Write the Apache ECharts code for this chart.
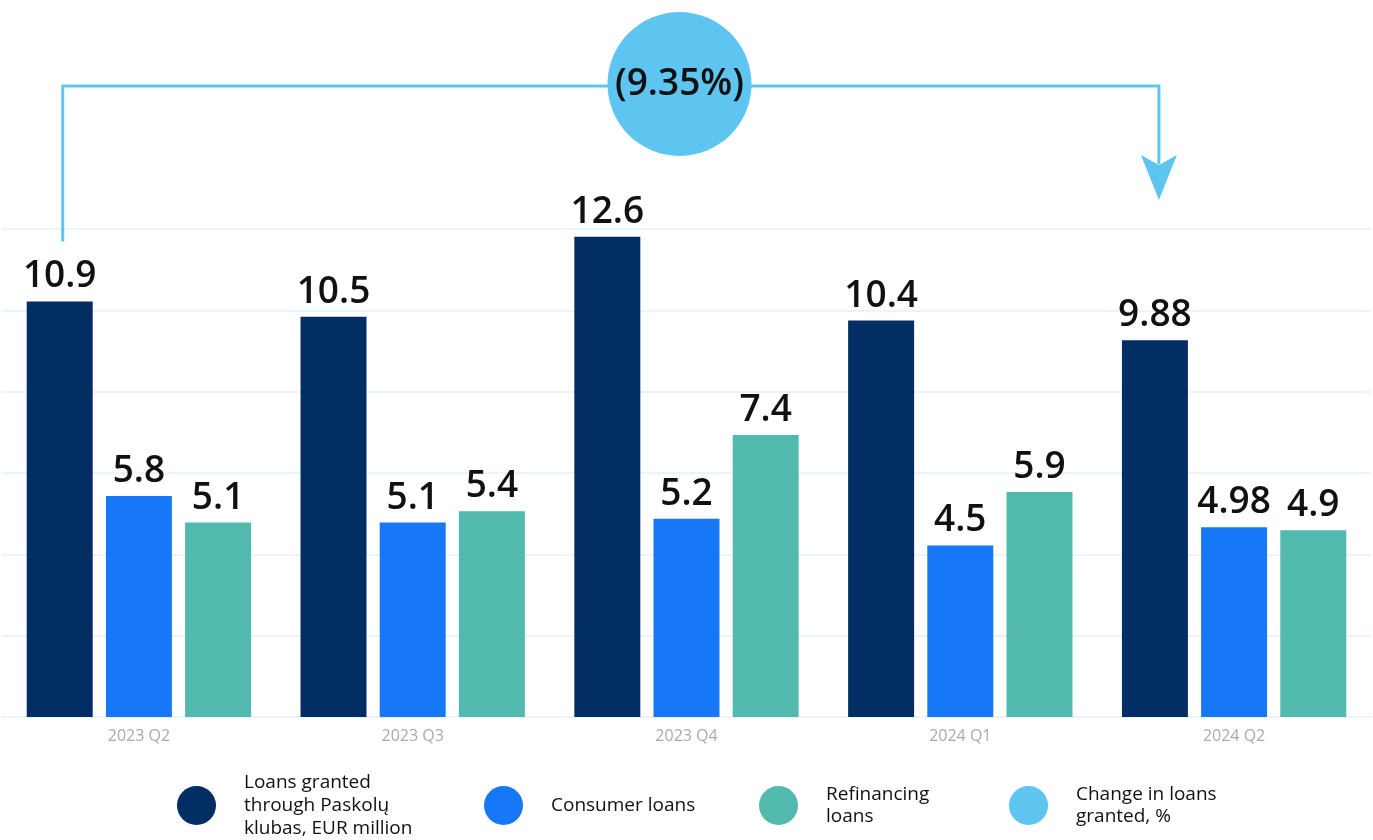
<!DOCTYPE html>
<html>
<head>
<meta charset="utf-8">
<title>Loans granted through Paskolų klubas</title>
<script src="https://cdn.jsdelivr.net/npm/echarts@6/dist/echarts.min.js"></script>
<style>
  html, body { margin: 0; padding: 0; background: #ffffff; }
  #chart { width: 1373px; height: 840px; }
</style>
</head>
<body>
<div id="chart"></div>
<script>
// Quarterly loan volumes, EUR million
const quarters = ['2023 Q2', '2023 Q3', '2023 Q4', '2024 Q1', '2024 Q2'];
const loansGranted = [10.9, 10.5, 12.6, 10.4, 9.88];
const consumerLoans = [5.8, 5.1, 5.2, 4.5, 4.98];
const refinancingLoans = [5.1, 5.4, 7.4, 5.9, 4.9];

// Year-on-year change in loans granted, %
const changeFrom = '2023 Q2';
const changeTo = '2024 Q2';
const changePct = [-9.35];

const seriesNames = [
  'Loans granted\nthrough Paskolų\nklubas, EUR million',
  'Consumer loans',
  'Refinancing\nloans',
  'Change in loans\ngranted, %'
];
const colors = ['#022e63', '#1778f7', '#52b9ae', '#5ec5f0'];

const FONT = '"Open Sans", "Noto Sans", sans-serif';
const BAR_W = 0.241;   // bar width as share of a category band
const Y_MAX = 12.8;

const chart = echarts.init(document.getElementById('chart'), null, { renderer: 'canvas' });

const valueLabel = {
  show: true,
  position: 'top',
  distance: 6,
  color: '#111111',
  fontFamily: FONT,
  fontWeight: 600,
  fontSize: 37
};

function barSeries(name, data, color) {
  return {
    name: name,
    type: 'bar',
    data: data,
    barWidth: (BAR_W * 100) + '%',
    barGap: '20%',
    itemStyle: { color: color },
    label: valueLabel,
    emphasis: { disabled: true }
  };
}

// Bracket from the first quarter's total to the last one, with the change bubble on top
function renderChange(params, api) {
  const i0 = quarters.indexOf(changeFrom);
  const i1 = quarters.indexOf(changeTo);
  const band = api.size([1, 0])[0];
  const shift = -1.2 * BAR_W * band;           // centre of the first bar in a group
  const a = api.coord([i0, loansGranted[i0]]);
  const b = api.coord([i1, loansGranted[i1]]);
  const gridTop = api.coord([i0, Y_MAX])[1];
  const x0 = a[0] + shift + 3;
  const x1 = b[0] + shift + 4;
  const topY = gridTop - 143;
  const startY = a[1] - 60;
  const tipY = gridTop - 29;
  const pct = api.value(1);
  const cx = api.getWidth() / 2 - 7;
  const cy = topY - 2;
  return {
    type: 'group',
    children: [
      {
        type: 'polyline',
        shape: { points: [[x0, startY], [x0, topY], [x1, topY], [x1, tipY - 36]] },
        style: { stroke: colors[3], lineWidth: 3, fill: null }
      },
      {
        type: 'polygon',
        shape: { points: [[x1 - 18, tipY - 45], [x1, tipY - 35], [x1 + 18, tipY - 45], [x1, tipY]] },
        style: { fill: colors[3] }
      },
      {
        type: 'circle',
        shape: { cx: cx, cy: cy, r: 72 },
        style: { fill: colors[3] }
      },
      {
        type: 'text',
        style: {
          x: cx, y: cy,
          text: (pct < 0 ? '(' + Math.abs(pct).toFixed(2) + '%)' : pct.toFixed(2) + '%'),
          fill: '#111111',
          font: '600 37px ' + FONT,
          align: 'center',
          verticalAlign: 'middle'
        }
      }
    ]
  };
}

function legendFor(idx, left, top) {
  return {
    left: left,
    top: top,
    padding: 0,
    orient: 'horizontal',
    icon: 'circle',
    itemWidth: 39,
    itemHeight: 39,
    selectedMode: false,
    data: [{ name: seriesNames[idx], itemStyle: { color: colors[idx] } }],
    textStyle: {
      color: '#111111',
      fontFamily: FONT,
      fontSize: 19,
      lineHeight: 22.7,
      padding: [0, 0, 0, 23]
    }
  };
}

const option = {
  animation: false,
  backgroundColor: '#ffffff',
  grid: { left: 2, right: 2, top: 229, bottom: 123, containLabel: false },
  xAxis: {
    type: 'category',
    data: quarters,
    axisTick: { show: false },
    axisLine: { show: true, lineStyle: { color: '#e9f4fc', width: 2 } },
    axisLabel: { color: '#aaaaaa', fontFamily: FONT, fontSize: 16, margin: 11 }
  },
  yAxis: {
    type: 'value',
    min: 0,
    max: Y_MAX,
    interval: Y_MAX / 6,
    axisLabel: { show: false },
    axisLine: { show: false },
    axisTick: { show: false },
    splitLine: { show: true, lineStyle: { color: '#e9f4fc', width: 2 } }
  },
  legend: [
    legendFor(0, 177, 771.5),
    legendFor(1, 484, 786),
    legendFor(2, 759, 782.8),
    legendFor(3, 1009, 782.8)
  ],
  series: [
    barSeries(seriesNames[0], loansGranted, colors[0]),
    barSeries(seriesNames[1], consumerLoans, colors[1]),
    barSeries(seriesNames[2], refinancingLoans, colors[2]),
    {
      name: seriesNames[3],
      type: 'custom',
      renderItem: renderChange,
      data: changePct.map(function (v) { return [quarters.indexOf(changeFrom), v]; }),
      itemStyle: { color: colors[3] },
      clip: false,
      z: 5,
      silent: true
    }
  ]
};

chart.setOption(option);
</script>
</body>
</html>
